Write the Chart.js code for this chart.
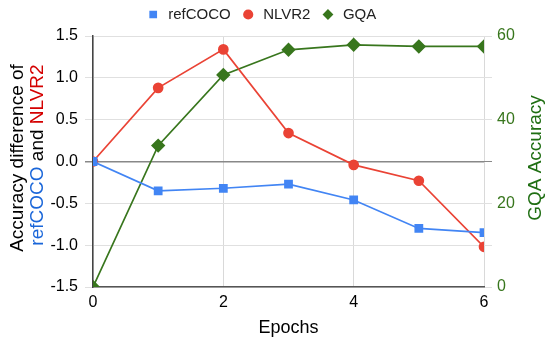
<!DOCTYPE html>
<html>
<head>
<meta charset="utf-8">
<script src="https://cdn.jsdelivr.net/npm/chart.js@4"></script>
<style>
  html, body { margin: 0; padding: 0; background: #fff; }
  #wrap { width: 550px; height: 339px; }
</style>
</head>
<body>
<div id="wrap"><canvas id="chart" width="550" height="339"></canvas></div>
<script>
// valeurs
const epochs = [0, 1, 2, 3, 4, 5, 6];
const refCOCO = [0, -0.35, -0.32, -0.27, -0.46, -0.80, -0.85];
const nlvr2 = [0, 0.88, 1.34, 0.34, -0.04, -0.23, -1.02];
const gqa = [0, 33.8, 50.7, 56.7, 57.9, 57.5, 57.5];
const leftTicks = [-1.5, 1.5, 0.5];   // min, max, pas
const rightTicks = [0, 60, 10];

const FONT = "'Liberation Sans', Arial, sans-serif";
const GREEN = '#38761d';

function pts(xs, ys) {
    return xs.map((x, i) => ({ x: x, y: ys[i] }));
}

// décale la légende (un peu à gauche et plus haut)
const legendShift = {
    id: 'legendShift',
    afterLayout(chart) {
        const lg = chart.legend;
        if (!lg) return;
        lg.left -= 14;
        lg.right -= 14;
        lg.top -= 4;
        lg.bottom -= 4;
    }
};

// titres des axes verticaux (texte multicolore)
const axisTitles = {
    id: 'axisTitles',
    afterDraw(chart) {
        const ctx = chart.ctx;
        ctx.save();
        ctx.font = '19px ' + FONT;
        ctx.textBaseline = 'alphabetic';

        // gauche, ligne 1
        ctx.save();
        ctx.translate(23, 158);
        ctx.rotate(-Math.PI / 2);
        ctx.textAlign = 'center';
        ctx.fillStyle = '#000';
        ctx.fillText('Accuracy difference of', 0, 0);
        ctx.restore();

        // gauche, ligne 2
        const parts = [['refCOCO', '#1a66d9'], [' and ', '#000'], ['NLVR2', '#d40000']];
        const total = parts.reduce((s, p) => s + ctx.measureText(p[0]).width, 0);
        ctx.save();
        ctx.translate(43, 155);
        ctx.rotate(-Math.PI / 2);
        ctx.textAlign = 'left';
        let x = -total / 2;
        parts.forEach(p => {
            ctx.fillStyle = p[1];
            ctx.fillText(p[0], x, 0);
            x += ctx.measureText(p[0]).width;
        });
        ctx.restore();

        // droite
        ctx.save();
        ctx.translate(541, 158);
        ctx.rotate(-Math.PI / 2);
        ctx.textAlign = 'center';
        ctx.fillStyle = '#1f6e12';
        ctx.fillText('GQA Accuracy', 0, 0);
        ctx.restore();

        ctx.restore();
    }
};

new Chart(document.getElementById('chart'), {
    type: 'line',
    data: {
        datasets: [
            {
                label: 'refCOCO',
                data: pts(epochs, refCOCO),
                yAxisID: 'y',
                borderColor: '#4285f4',
                backgroundColor: '#4285f4',
                borderWidth: 1.7,
                pointStyle: 'rect',
                pointRadius: 5,
                pointHoverRadius: 5
            },
            {
                label: 'NLVR2',
                data: pts(epochs, nlvr2),
                yAxisID: 'y',
                borderColor: '#ea4335',
                backgroundColor: '#ea4335',
                borderWidth: 1.7,
                pointStyle: 'circle',
                pointRadius: 4.5,
                pointHoverRadius: 4.5
            },
            {
                label: 'GQA',
                data: pts(epochs, gqa),
                yAxisID: 'y1',
                borderColor: GREEN,
                backgroundColor: GREEN,
                borderWidth: 1.7,
                pointStyle: 'rectRot',
                pointRadius: 6,
                pointHoverRadius: 6
            }
        ]
    },
    options: {
        responsive: false,
        animation: false,
        layout: { padding: { left: 0, right: 0, top: 1, bottom: 0 } },
        plugins: {
            legend: {
                position: 'top',
                labels: {
                    usePointStyle: true,
                    boxWidth: 15,
                    boxHeight: 6,
                    padding: 10,
                    color: '#222',
                    font: { family: FONT, size: 15 }
                }
            },
            tooltip: { enabled: false }
        },
        scales: {
            x: {
                type: 'linear',
                min: 0,
                max: 6,
                afterFit: s => { s.height = 52; },
                ticks: { stepSize: 2, color: '#000', padding: 6, font: { family: FONT, size: 16 } },
                grid: { color: '#d9d9d9', lineWidth: 1, drawTicks: false },
                border: { color: '#555', width: 1.5 },
                title: {
                    display: true,
                    text: 'Epochs',
                    color: '#000',
                    padding: { top: 2, bottom: 0 },
                    font: { family: FONT, size: 18 }
                }
            },
            y: {
                position: 'left',
                min: leftTicks[0],
                max: leftTicks[1],
                afterFit: s => { s.width = 93; },
                ticks: {
                    stepSize: leftTicks[2],
                    color: '#000',
                    padding: 7,
                    font: { family: FONT, size: 16 },
                    callback: v => v.toFixed(1)
                },
                grid: {
                    color: c => c.tick && c.tick.value === 0 ? '#888' : '#e0e0e0',
                    lineWidth: c => c.tick && c.tick.value === 0 ? 1.5 : 1,
                    tickLength: 8
                },
                border: { color: '#444', width: 1.5 }
            },
            y1: {
                position: 'right',
                min: rightTicks[0],
                max: rightTicks[1],
                afterFit: s => { s.width = 66; },
                ticks: {
                    stepSize: rightTicks[2],
                    color: GREEN,
                    padding: 5,
                    font: { family: FONT, size: 16 },
                    callback: v => v % 20 === 0 ? v : ''
                },
                grid: {
                    drawOnChartArea: false,
                    color: c => c.tick && c.tick.value === 30 ? '#888' : '#e0e0e0',
                    tickLength: 8
                },
                border: { display: false }
            }
        }
    },
    plugins: [legendShift, axisTitles]
});
</script>
</body>
</html>
